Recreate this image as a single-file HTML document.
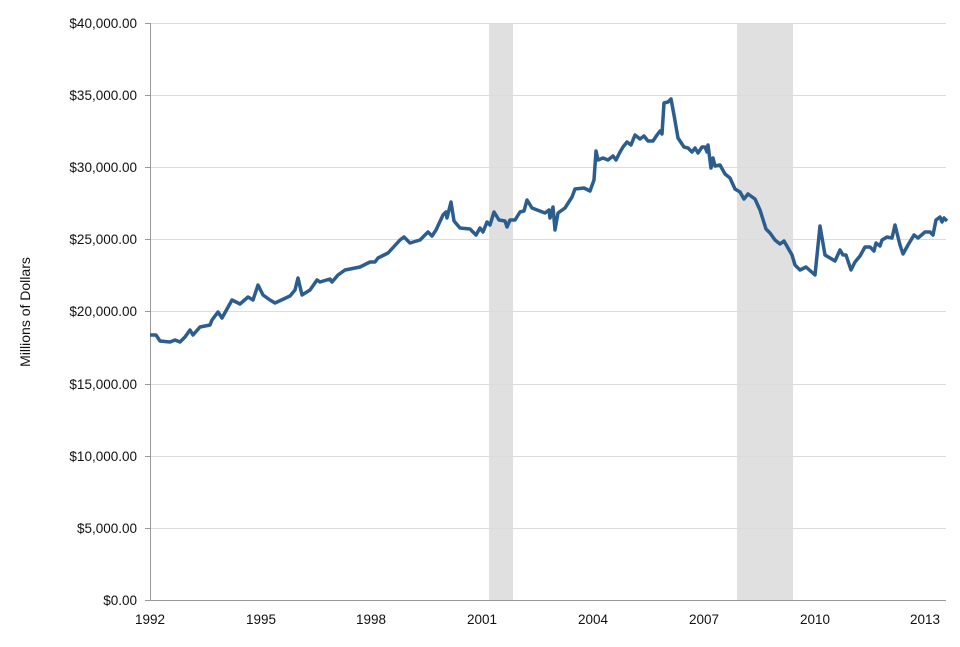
<!DOCTYPE html>
<html><head><style>
body{margin:0;background:#fff;}
svg text{font-family:"Liberation Sans",Arial,sans-serif;font-size:13.5px;fill:#111;}
</style></head><body>
<svg width="960" height="642" viewBox="0 0 960 642">
<rect x="489" y="23" width="24" height="577" fill="#e0e0e0"/>
<rect x="737" y="23" width="56" height="577" fill="#e0e0e0"/>
<g stroke="#dcdcdc" stroke-width="1">
<line x1="150" y1="23.5" x2="946" y2="23.5"/>
<line x1="150" y1="95.5" x2="946" y2="95.5"/>
<line x1="150" y1="167.5" x2="946" y2="167.5"/>
<line x1="150" y1="239.5" x2="946" y2="239.5"/>
<line x1="150" y1="311.5" x2="946" y2="311.5"/>
<line x1="150" y1="384.5" x2="946" y2="384.5"/>
<line x1="150" y1="456.5" x2="946" y2="456.5"/>
<line x1="150" y1="528.5" x2="946" y2="528.5"/>
</g>
<line x1="150.5" y1="23" x2="150.5" y2="600" stroke="#999"/>
<line x1="150" y1="600.5" x2="946" y2="600.5" stroke="#999"/>
<g stroke="#999"><line x1="145" y1="23.5" x2="150" y2="23.5"/><line x1="145" y1="95.5" x2="150" y2="95.5"/><line x1="145" y1="167.5" x2="150" y2="167.5"/><line x1="145" y1="239.5" x2="150" y2="239.5"/><line x1="145" y1="311.5" x2="150" y2="311.5"/><line x1="145" y1="384.5" x2="150" y2="384.5"/><line x1="145" y1="456.5" x2="150" y2="456.5"/><line x1="145" y1="528.5" x2="150" y2="528.5"/><line x1="145" y1="600.5" x2="150" y2="600.5"/></g>
<g text-anchor="end">
<text x="137" y="28">$40,000.00</text>
<text x="137" y="100">$35,000.00</text>
<text x="137" y="172">$30,000.00</text>
<text x="137" y="244">$25,000.00</text>
<text x="137" y="316">$20,000.00</text>
<text x="137" y="389">$15,000.00</text>
<text x="137" y="461">$10,000.00</text>
<text x="137" y="533">$5,000.00</text>
<text x="137" y="605">$0.00</text>
</g>
<g text-anchor="middle">
<text x="150" y="624">1992</text>
<text x="261" y="624">1995</text>
<text x="371" y="624">1998</text>
<text x="482" y="624">2001</text>
<text x="593" y="624">2004</text>
<text x="704" y="624">2007</text>
<text x="815" y="624">2010</text>
<text x="925" y="624">2013</text>
</g>
<text x="30" y="312" text-anchor="middle" transform="rotate(-90 30 312)" style="font-size:14px">Millions of Dollars</text>
<polyline fill="none" stroke="#2c5d8f" stroke-width="3.5" stroke-linejoin="round" points="150,335 156,335 160,341 170,342 175,340 180,342 185,337 190,330 193,335 200,327 210,325 212,320 218,312 222,318 232,300 240,304 248,297 253,300 258,285 263,295 270,300 275,303 290,296 295,290 298,278 302,295 310,290 317,280 320,282 330,279 332,282 338,275 345,270 355,268 360,267 370,262 375,262 378,258 388,253 400,240 404,237 410,243 420,240 428,232 432,236 436,230 443,215 446,212 447,218 451,202 454,221 460,228 470,229 476,235 480,228 483,232 487,222 490,225 494,212 499,220 505,221 507,227 510,220 515,220 520,212 524,211 527,200 532,208 545,213 549,210 550,218 553,207 555,230 558,213 565,208 572,197 575,189 584,188 590,191 594,180 596,151 598,160 603,158 608,160 613,156 616,160 620,152 623,147 627,142 631,145 635,135 640,139 644,136 648,141 653,141 657,135 660,131 662,134 664,103 668,102 671,99 674,115 678,138 684,147 688,148 692,152 695,148 698,153 702,147 705,147 707,152 708,145 711,168 713,158 715,166 720,165 725,174 730,178 735,189 740,192 744,199 748,194 755,199 760,210 766,229 770,233 775,240 780,244 784,241 788,248 792,255 795,265 800,270 806,267 815,275 820,226 825,255 830,258 835,261 840,250 843,255 846,255 851,270 855,262 860,256 865,247 870,247 874,251 876,243 880,246 882,240 887,237 892,238 895,225 900,245 903,254 908,245 914,235 918,238 925,232 930,232 933,235 936,220 940,217 942,222 944,218 947,221"/>
</svg>
</body></html>
